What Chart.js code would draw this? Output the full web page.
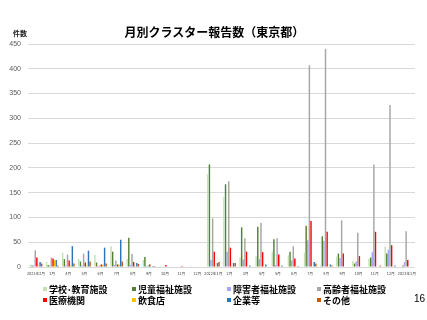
<!DOCTYPE html>
<html>
<head>
<meta charset="utf-8">
<script src="https://cdn.jsdelivr.net/npm/chart.js@4"></script>
<style>
  body { margin: 0; width: 427px; height: 320px; background: #fff; overflow: hidden; font-family: "Noto Sans CJK JP", sans-serif; }
  #wrap { position: relative; width: 427px; height: 320px; }
  canvas { position: absolute; left: 0; top: 0; }
  .title { position: absolute; left: 0; width: 429px; top: 23px; text-align: center; font-size: 12px; font-weight: bold; color: #000; }
  .unit { position: absolute; left: 13px; top: 28px; font-size: 7px; font-weight: bold; color: #222; }
  .leg { position: absolute; font-size: 9px; font-weight: bold; color: #000; line-height: 10px; white-space: nowrap; }
  .leg i { display: inline-block; width: 4px; height: 4px; margin-right: 2px; vertical-align: 2px; }
  .page { position: absolute; left: 414px; top: 293px; font-size: 10px; color: #000; font-family: "Liberation Sans", sans-serif; }
</style>
</head>
<body>
<div id="wrap">
  <canvas id="clusterChart" width="427" height="320"></canvas>
  <div class="title">月別クラスター報告数（東京都）</div>
  <div class="unit">件数</div>
  <div id="legend"></div>
  <div class="page">16</div>
</div>
<script>
// months, 2021年2月 .. 2023年1月
let months = ['2021年2月', '3月', '4月', '5月', '6月', '7月', '8月', '9月', '10月', '11月', '12月',
              '2022年1月', '2月', '3月', '4月', '5月', '6月', '7月', '8月', '9月', '10月', '11月', '12月',
              '2023年1月'];

let seriesNames = ['学校･教育施設', '児童福祉施設', '障害者福祉施設', '高齢者福祉施設',
                   '医療機関', '飲食店', '企業等', 'その他'];

let school   = [5, 10, 29, 16, 24, 42, 16, 14, 1, 1, 2, 187, 142, 19, 22, 31, 24, 29, 3, 21, 12, 17, 41, 1];
let child    = [3, 4, 16, 11, 9, 31, 59, 20, 1, 0, 0, 207, 167, 80, 81, 56, 31, 83, 62, 27, 7, 19, 27, 3];
let disabled = [3, 3, 3, 3, 2, 4, 4, 2, 0, 1, 0, 14, 31, 15, 16, 4, 13, 54, 53, 18, 11, 30, 35, 10];
let elderly  = [34, 19, 25, 27, 3, 13, 26, 3, 1, 1, 1, 98, 173, 58, 89, 58, 42, 407, 440, 94, 69, 207, 327, 72];
let medical  = [19, 17, 13, 9, 5, 5, 10, 5, 4, 2, 1, 31, 39, 31, 30, 25, 17, 93, 71, 27, 22, 71, 44, 14];
let food     = [3, 14, 3, 3, 5, 5, 2, 1, 0, 0, 0, 2, 2, 1, 1, 1, 1, 1, 1, 0, 0, 0, 0, 0];
let company  = [10, 14, 42, 33, 39, 55, 8, 2, 1, 0, 0, 8, 8, 3, 5, 3, 2, 10, 5, 1, 1, 0, 3, 1];
let other    = [7, 3, 7, 11, 7, 11, 6, 2, 0, 0, 0, 10, 8, 1, 1, 1, 1, 7, 3, 1, 0, 3, 0, 0];

let seriesData = [school, child, disabled, elderly, medical, food, company, other];
let colors = ['#c5e0b4', '#548235', '#a5a5ff', '#a6a6a6', '#ff0000', '#ffc000', '#2e75b6', '#c55a11'];

let datasets = [];
for (let i = 0; i < seriesNames.length; i++) {
    datasets.push({
        label: seriesNames[i],
        data: seriesData[i],
        backgroundColor: colors[i],
        borderWidth: 0
    });
}

let ctx = document.getElementById('clusterChart').getContext('2d');
let chart = new Chart(ctx, {
    type: 'bar',
    data: { labels: months, datasets: datasets },
    options: {
        responsive: false,
        animation: false,
        layout: { padding: { top: 44, right: 12, bottom: 40, left: 0 } },
        plugins: {
            legend: { display: false },
            tooltip: { enabled: false }
        },
        scales: {
            x: {
                grid: { display: false, drawTicks: false },
                border: { display: false },
                ticks: {
                    autoSkip: false, maxRotation: 0, minRotation: 0, padding: 4,
                    color: '#404040',
                    font: { size: 3.8, family: 'Noto Sans CJK JP' }
                },
                afterFit: (scale) => { scale.height = 13; }
            },
            y: {
                min: 0, max: 450,
                grid: { color: '#d9d9d9', drawTicks: false },
                border: { display: false },
                ticks: {
                    stepSize: 50, padding: 7,
                    color: '#595959',
                    font: { size: 7, family: 'Liberation Sans' }
                },
                afterFit: (scale) => { scale.width = 28; }
            }
        }
    }
});

// legend in 4 columns, 2 rows like the slide
let legendX = [43, 132, 227, 317];
let legendY = [285, 296];
let legendBox = document.getElementById('legend');
for (let i = 0; i < seriesNames.length; i++) {
    let d = document.createElement('div');
    d.className = 'leg';
    d.style.left = legendX[i % 4] + 'px';
    d.style.top = legendY[Math.floor(i / 4)] + 'px';
    d.innerHTML = '<i style="background:' + colors[i] + '"></i>' + seriesNames[i];
    legendBox.appendChild(d);
}
</script>
</body>
</html>
